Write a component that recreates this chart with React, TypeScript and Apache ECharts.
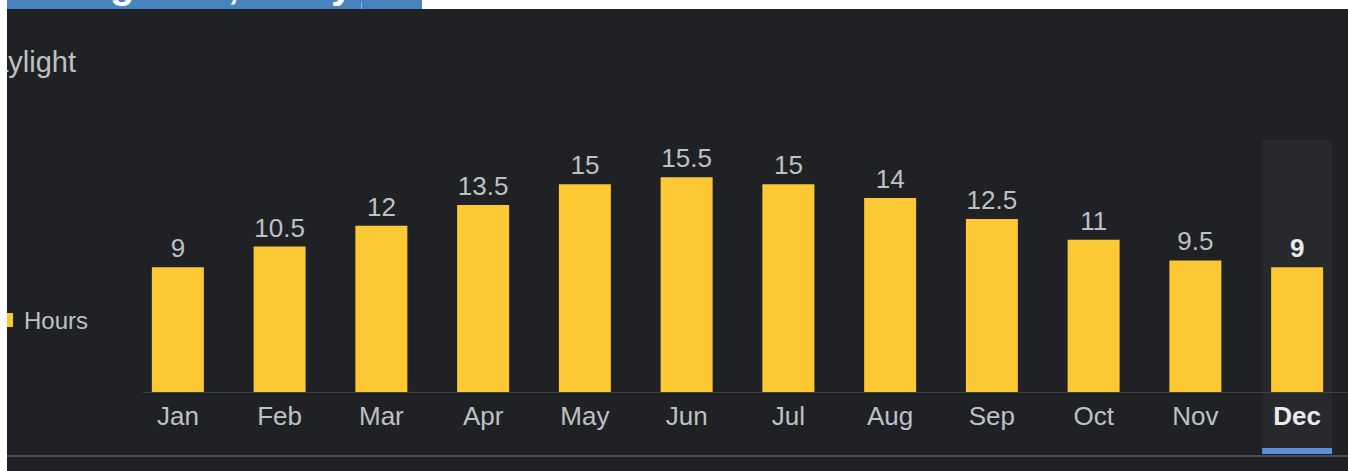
import React, { useEffect, useRef } from "react";
import * as echarts from "echarts";

const months = ["Jan", "Feb", "Mar", "Apr", "May", "Jun", "Jul", "Aug", "Sep", "Oct", "Nov", "Dec"];
const hours = [9, 10.5, 12, 13.5, 15, 15.5, 15, 14, 12.5, 11, 9.5, 9];
const seriesName = "Hours";
const selectedMonth = "Dec";
const sectionTitle = "Daylight";
const headerGlyphs = [
  { t: "g", x: 110 },
  { t: ",", x: 228 },
  { t: "y", x: 331 },
];

const FONT = "'Liberation Sans', Arial, sans-serif";
const W = 1348;
const H = 471;

export default function App() {
  const ref = useRef<HTMLDivElement>(null);
  useEffect(() => {
    const chart = echarts.init(ref.current!, null, { renderer: "svg", width: W, height: H });
    const sel = months.indexOf(selectedMonth);
    const data = hours.map((v, i) =>
      i === sel ? { value: v, label: { fontWeight: "bold", color: "#e8eaed" } } : v
    );
    chart.setOption({
      animation: false,
      backgroundColor: "#202124",
      grid: { left: 127, right: 0, top: 115, bottom: 79, containLabel: false },
      legend: {
        left: -6,
        top: 303,
        itemWidth: 14,
        itemHeight: 14,
        icon: "rect",
        data: [seriesName],
        selectedMode: false,
        textStyle: { color: "#bdc1c6", fontSize: 24, fontFamily: FONT, padding: [0, 0, 0, 6] },
      },
      xAxis: {
        type: "category",
        data: months,
        axisLine: { show: false },
        axisTick: { show: false },
        axisLabel: {
          interval: 0,
          margin: 11,
          fontSize: 26,
          color: "#bdc1c6",
          fontFamily: FONT,
          formatter: (v: string) => (v === selectedMonth ? `{sel|${v}}` : v),
          rich: { sel: { fontWeight: "bold", color: "#e8eaed", fontSize: 26, fontFamily: FONT } },
        },
      },
      yAxis: { type: "value", min: 0, max: 20, show: false, splitLine: { show: false } },
      series: [
        {
          name: seriesName,
          type: "bar",
          data,
          barWidth: 52,
          itemStyle: { color: "#fcc934" },
          label: {
            show: true,
            position: "top",
            distance: 6,
            fontSize: 26,
            color: "#bdc1c6",
            fontFamily: FONT,
          },
          z: 2,
        },
      ],
    });
    const [cx, y0] = chart.convertToPixel({ gridIndex: 0 }, [sel, 0]) as number[];
    const [firstX] = chart.convertToPixel({ gridIndex: 0 }, [0, 0]) as number[];
    chart.setOption({
      graphic: [
        { type: "rect", z: 0, shape: { x: cx - 35, y: 140, width: 70, height: 312 }, style: { fill: "#28292d" } },
        { type: "rect", z: 1, shape: { x: cx - 35, y: 448, width: 70, height: 6 }, style: { fill: "#5b8fd6" } },
        { type: "line", z: 1, shape: { x1: firstX - 35, y1: y0 + 0.5, x2: W, y2: y0 + 0.5 }, style: { stroke: "#3c4043", lineWidth: 1 } },
        { type: "line", z: 1, shape: { x1: 0, y1: 456, x2: W, y2: 456 }, style: { stroke: "#4d5054", lineWidth: 2 } },
        {
          type: "text",
          z: 5,
          style: { text: sectionTitle, x: 76, y: 47, align: "right", verticalAlign: "top", fontSize: 29, fill: "#bdc1c6", fontFamily: FONT },
        },
        { type: "rect", z: 100, shape: { x: 0, y: 0, width: 7, height: H }, style: { fill: "#ffffff" } },
        { type: "rect", z: 100, shape: { x: 0, y: 0, width: W, height: 9 }, style: { fill: "#ffffff" } },
        { type: "rect", z: 101, shape: { x: 7, y: 0, width: 415, height: 9 }, style: { fill: "#4784bf" } },
        ...headerGlyphs.map((g) => ({
          type: "text",
          z: 102,
          style: { text: g.t, x: g.x, y: 4, verticalAlign: "bottom", fontSize: 40, fontWeight: "bold", fill: "#ffffff", fontFamily: FONT },
        })),
        { type: "rect", z: 102, shape: { x: 361, y: 2, width: 1, height: 7 }, style: { fill: "#8fb3d9" } },
        { type: "rect", z: 103, shape: { x: 0, y: 9, width: W, height: 10 }, style: { fill: "#202124" } },
        { type: "rect", z: 104, shape: { x: 0, y: 0, width: 7, height: H }, style: { fill: "#ffffff" } },
      ],
    });
    return () => chart.dispose();
  }, []);
  return <div ref={ref} style={{ position: "fixed", left: 0, top: 0, width: W, height: H }} />;
}
